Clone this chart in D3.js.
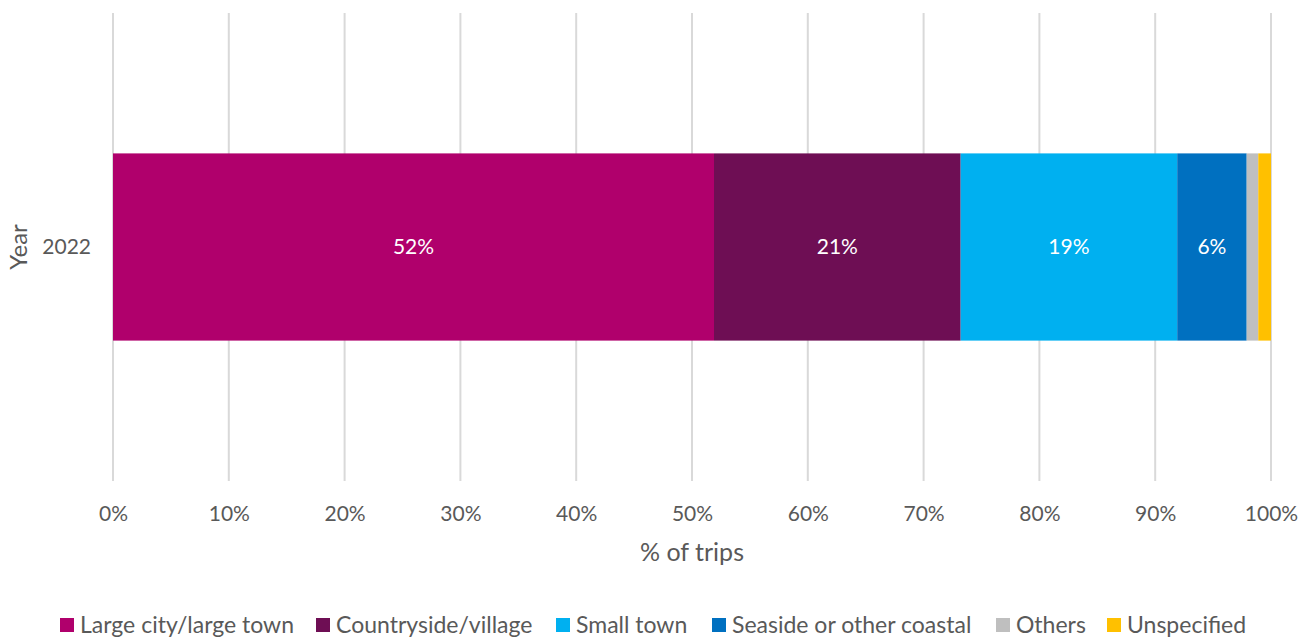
<!DOCTYPE html>
<html>
<head>
<meta charset="utf-8">
<script src="https://cdn.jsdelivr.net/npm/d3@7"></script>
<style>
  html, body { margin: 0; padding: 0; background: #fff; }
  svg { display: block; font-family: "Source Sans Pro", Lato, "Noto Sans", sans-serif; }
</style>
</head>
<body>
<svg id="chart" width="1311" height="638"></svg>
<script>
// Share of trips by destination type, 2022
const years = ["2022"];
const categories = ["Large city/large town", "Countryside/village", "Small town",
                    "Seaside or other coastal", "Others", "Unspecified"];
const values2022 = [51.9, 21.3, 18.7, 6.0, 1.0, 1.1];
const colors = ["#B0006C", "#6E0E54", "#00B0F0", "#0070C0", "#BFBFBF", "#FFC000"];
const xTicks = [0, 10, 20, 30, 40, 50, 60, 70, 80, 90, 100];
const showLabel = [true, true, true, true, false, false];

const svg = d3.select("#chart");
const textColor = "#595959";

const x = d3.scaleLinear().domain([0, 100]).range([113, 1271]);
const y = d3.scaleBand().domain(years).range([13, 481]).paddingInner(0.6).paddingOuter(0.3);

// vertical gridlines
svg.append("g")
  .selectAll("line")
  .data(xTicks)
  .join("line")
  .attr("x1", d => x(d)).attr("x2", d => x(d))
  .attr("y1", 13).attr("y2", 481)
  .attr("stroke", "#d9d9d9").attr("stroke-width", 2);

// stacked segments
const segs = [];
let acc = 0;
values2022.forEach((v, i) => { segs.push({ i, v, x0: acc, x1: acc + v, year: "2022" }); acc += v; });

svg.append("g")
  .selectAll("rect")
  .data(segs)
  .join("rect")
  .attr("x", d => x(d.x0))
  .attr("width", d => x(d.x1) - x(d.x0))
  .attr("y", d => y(d.year))
  .attr("height", y.bandwidth())
  .attr("fill", d => colors[d.i]);

svg.append("g")
  .selectAll("text")
  .data(segs.filter(d => showLabel[d.i]))
  .join("text")
  .attr("x", d => (x(d.x0) + x(d.x1)) / 2)
  .attr("y", d => y(d.year) + y.bandwidth() / 2)
  .attr("dy", "0.35em")
  .attr("text-anchor", "middle")
  .attr("fill", "#fff")
  .attr("font-size", 21)
  .text(d => d3.format(".0f")(d.v) + "%");

// x axis tick labels
const xAxis = d3.axisBottom(x).tickValues(xTicks).tickFormat(d => d + "%").tickSize(0).tickPadding(0);
const gx = svg.append("g").attr("transform", "translate(0,506)").call(xAxis);
gx.attr("font-family", null).attr("font-size", null);
gx.select(".domain").remove();
gx.selectAll("text").attr("font-size", 21).attr("fill", textColor);

svg.append("text")
  .attr("x", (x(0) + x(100)) / 2).attr("y", 561)
  .attr("text-anchor", "middle").attr("font-size", 25).attr("fill", textColor)
  .text("% of trips");

// y axis
const yAxis = d3.axisLeft(y).tickSize(0).tickPadding(0);
const gy = svg.append("g").attr("transform", "translate(91,0)").call(yAxis);
gy.attr("font-family", null).attr("font-size", null);
gy.select(".domain").remove();
gy.selectAll("text").attr("font-size", 21).attr("fill", textColor);

svg.append("text")
  .attr("transform", `translate(27,${y("2022") + y.bandwidth() / 2}) rotate(-90)`)
  .attr("text-anchor", "middle").attr("font-size", 24).attr("fill", textColor)
  .text("Year");

// legend
const legendX = [60, 316, 556, 712, 996, 1107];
const lg = svg.append("g").selectAll("g")
  .data(categories)
  .join("g")
  .attr("transform", (d, i) => `translate(${legendX[i]},618)`);
lg.append("rect").attr("width", 14).attr("height", 14).attr("fill", (d, i) => colors[i]);
lg.append("text").attr("x", 20).attr("y", 15).attr("font-size", 23).attr("fill", textColor).text(d => d);
</script>
</body>
</html>
